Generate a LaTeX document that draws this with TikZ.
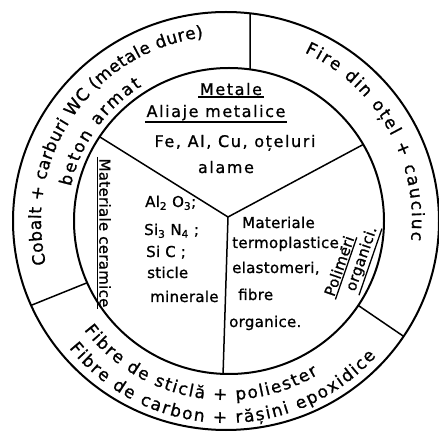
\documentclass[tikz,border=0pt]{standalone}
\usepackage{fontspec}
\setmainfont{DejaVu Sans}
\newfontfamily\topfont[LetterSpace=10,FakeBold=1]{DejaVu Sans}
\newfontfamily\secfont[LetterSpace=2,FakeBold=1]{DejaVu Sans}
\newfontfamily\ringfam[FakeBold=1]{DejaVu Sans}
\newcommand\myrf{\ringfam\fontsize{17}{20}\selectfont}
\newcommand\mytf{\topfont\fontsize{16}{19}\selectfont}
\newcommand\mysf{\secfont\fontsize{15}{18}\selectfont}
\usetikzlibrary{decorations.text}
\begin{document}
\begin{tikzpicture}[x=1pt,y=1pt,
  ring/.style={line width=2pt},
  spoke/.style={line width=1.5pt},
  ulline/.style={line width=1.3pt},
  toplab/.style={inner sep=1.5pt, font=\mytf},
  seclab/.style={inner sep=0pt, font=\mysf, anchor=base west},
  ringtext/.style={decorate, decoration={text along path, text={|\myrf|#1}, text align=fit to path}}
]
\useasboundingbox (0,0) rectangle (439,431);
\coordinate (O) at (226,210);
\coordinate (I) at (229,210);
\coordinate (V) at (228,214);
% circles
\draw[ring] (O) ellipse [x radius=213, y radius=209];
\draw[ring] (I) ellipse [x radius=155, y radius=153];
% spokes
\path (I) ++(146.6:155 and 153) coordinate (s1);
\path (I) ++(30:155 and 153) coordinate (s2);
\path (I) ++(267.8:155 and 153) coordinate (s3);
\draw[spoke] (V) -- (s1);
\draw[spoke] (V) -- (s2);
\draw[spoke] (V) -- (s3);
% outer separators
\path (I) ++(82.2:155 and 153) coordinate (a1);
\path (O) ++(83.5:213 and 209) coordinate (a2);
\path (I) ++(203.8:155 and 153) coordinate (b1);
\path (O) ++(203.8:213 and 209) coordinate (b2);
\path (I) ++(-33.5:155 and 153) coordinate (c1);
\path (O) ++(-33.5:213 and 209) coordinate (c2);
\draw[spoke] (a1) -- (a2);
\draw[spoke] (b1) -- (b2);
\draw[spoke] (c1) -- (c2);
% ring texts
\path[ringtext={Cobalt + carburi WC (metale dure)}] (O) ++(193.5:185) arc[start angle=193.5, end angle=97, radius=185];
\path[ringtext={beton armat}] (O) ++(167.5:159) arc[start angle=167.5, end angle=122, radius=159];
\path[ringtext={Fire din oțel + cauciuc}] (O) ++(65:186) arc[start angle=65, end angle=-6, radius=186];
\path[ringtext={Fibre de sticlă + poliester}] (O) ++(217.5:179) arc[start angle=217.5, end angle=301, radius=179];
\path[ringtext={Fibre de carbon + rășini epoxidice}] (O) ++(219:202) arc[start angle=219, end angle=318, radius=202];
% top sector
\node[toplab, anchor=base] (met) at (231,336) {Metale};
\node[toplab, anchor=base] (ali) at (216,314) {Aliaje metalice};
\node[toplab, anchor=base] (fe) at (235,284) {Fe, Al, Cu, oțeluri};
\node[toplab, anchor=base] (ala) at (226,258) {alame};
\draw[ulline] (met.south west) -- (met.south east);
\draw[ulline] (ali.south west) -- (ali.south east);
% left sector
\node[seclab] (l1) at (145,224) {Al\textsubscript{2} O\textsubscript{3};};
\node[seclab] (l2) at (144,196) {Si\textsubscript{3} N\textsubscript{4} ;};
\node[seclab] (l3) at (146,174) {Si C ;};
\node[seclab] (l4) at (147,153) {sticle};
\node[seclab] (l5) at (150,129) {minerale};
\node[toplab, font=\mysf, rotate=-90] (mc) at (105,198) {Materiale ceramice};
\draw[ulline] (mc.south west) -- (mc.south east);
% right sector
\node[seclab] (r1) at (242,203) {Materiale};
\node[seclab] (r2) at (232,183) {termoplastice,};
\node[seclab] (r3) at (232,158) {elastomeri,};
\node[seclab] (r4) at (238,131) {fibre};
\node[seclab] (r5) at (229,104) {organice.};
\node[toplab, font=\mysf, rotate=71] (pol) at (339,165) {Polimeri};
\node[toplab, font=\mysf, rotate=71] (org) at (362,172) {organici.};
\draw[ulline] (pol.south west) -- (pol.south east);
\draw[ulline] (org.south west) -- (org.south east);
\end{tikzpicture}
\end{document}
